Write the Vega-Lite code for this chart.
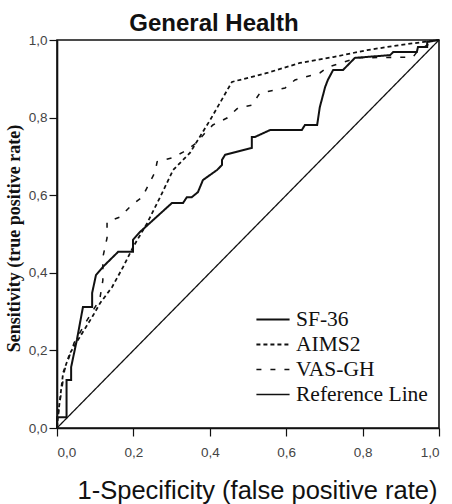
{
  "$schema": "https://vega.github.io/schema/vega-lite/v6.json",
  "autosize": "none",
  "width": 382,
  "height": 388,
  "padding": {"left": 57, "top": 40, "right": 13, "bottom": 76},
  "background": "white",
  "title": {"text": "General Health", "anchor": "middle", "frame": "group", "dx": -34, "offset": -3, "fontSize": 24, "font": "Liberation Sans", "fontWeight": "bold", "color": "#111"},
  "config": {
    "view": {"stroke": "#111", "strokeWidth": 1.6},
    "axis": {"grid": false, "domainColor": "#111", "domainWidth": 1.6, "tickColor": "#111", "tickSize": 8, "tickWidth": 1.2, "labelFont": "Liberation Sans", "labelFontSize": 13.5, "labelColor": "#444", "titleColor": "#111"}
  },
  "datasets": {
    "roc": [
      {"series": "SF-36", "i": 0, "fpr": 0, "tpr": 0},
      {"series": "SF-36", "i": 1, "fpr": 0, "tpr": 0.028},
      {"series": "SF-36", "i": 2, "fpr": 0.025, "tpr": 0.028},
      {"series": "SF-36", "i": 3, "fpr": 0.025, "tpr": 0.124},
      {"series": "SF-36", "i": 4, "fpr": 0.037, "tpr": 0.124},
      {"series": "SF-36", "i": 5, "fpr": 0.037, "tpr": 0.157},
      {"series": "SF-36", "i": 6, "fpr": 0.052, "tpr": 0.227},
      {"series": "SF-36", "i": 7, "fpr": 0.068, "tpr": 0.312},
      {"series": "SF-36", "i": 8, "fpr": 0.092, "tpr": 0.312},
      {"series": "SF-36", "i": 9, "fpr": 0.092, "tpr": 0.348},
      {"series": "SF-36", "i": 10, "fpr": 0.102, "tpr": 0.394},
      {"series": "SF-36", "i": 11, "fpr": 0.120, "tpr": 0.415},
      {"series": "SF-36", "i": 12, "fpr": 0.160, "tpr": 0.454},
      {"series": "SF-36", "i": 13, "fpr": 0.199, "tpr": 0.454},
      {"series": "SF-36", "i": 14, "fpr": 0.199, "tpr": 0.485},
      {"series": "SF-36", "i": 15, "fpr": 0.217, "tpr": 0.505},
      {"series": "SF-36", "i": 16, "fpr": 0.301, "tpr": 0.580},
      {"series": "SF-36", "i": 17, "fpr": 0.330, "tpr": 0.580},
      {"series": "SF-36", "i": 18, "fpr": 0.340, "tpr": 0.595},
      {"series": "SF-36", "i": 19, "fpr": 0.353, "tpr": 0.595},
      {"series": "SF-36", "i": 20, "fpr": 0.369, "tpr": 0.608},
      {"series": "SF-36", "i": 21, "fpr": 0.382, "tpr": 0.639},
      {"series": "SF-36", "i": 22, "fpr": 0.419, "tpr": 0.665},
      {"series": "SF-36", "i": 23, "fpr": 0.432, "tpr": 0.678},
      {"series": "SF-36", "i": 24, "fpr": 0.432, "tpr": 0.691},
      {"series": "SF-36", "i": 25, "fpr": 0.440, "tpr": 0.704},
      {"series": "SF-36", "i": 26, "fpr": 0.510, "tpr": 0.722},
      {"series": "SF-36", "i": 27, "fpr": 0.510, "tpr": 0.750},
      {"series": "SF-36", "i": 28, "fpr": 0.518, "tpr": 0.750},
      {"series": "SF-36", "i": 29, "fpr": 0.558, "tpr": 0.768},
      {"series": "SF-36", "i": 30, "fpr": 0.641, "tpr": 0.768},
      {"series": "SF-36", "i": 31, "fpr": 0.649, "tpr": 0.781},
      {"series": "SF-36", "i": 32, "fpr": 0.681, "tpr": 0.781},
      {"series": "SF-36", "i": 33, "fpr": 0.688, "tpr": 0.827},
      {"series": "SF-36", "i": 34, "fpr": 0.702, "tpr": 0.879},
      {"series": "SF-36", "i": 35, "fpr": 0.709, "tpr": 0.897},
      {"series": "SF-36", "i": 36, "fpr": 0.723, "tpr": 0.923},
      {"series": "SF-36", "i": 37, "fpr": 0.749, "tpr": 0.923},
      {"series": "SF-36", "i": 38, "fpr": 0.780, "tpr": 0.954},
      {"series": "SF-36", "i": 39, "fpr": 0.872, "tpr": 0.961},
      {"series": "SF-36", "i": 40, "fpr": 0.880, "tpr": 0.969},
      {"series": "SF-36", "i": 41, "fpr": 0.942, "tpr": 0.969},
      {"series": "SF-36", "i": 42, "fpr": 0.945, "tpr": 0.982},
      {"series": "SF-36", "i": 43, "fpr": 0.969, "tpr": 0.982},
      {"series": "SF-36", "i": 44, "fpr": 0.969, "tpr": 0.995},
      {"series": "SF-36", "i": 45, "fpr": 1, "tpr": 1},
      {"series": "AIMS2", "i": 0, "fpr": 0, "tpr": 0},
      {"series": "AIMS2", "i": 1, "fpr": 0.003, "tpr": 0.034},
      {"series": "AIMS2", "i": 2, "fpr": 0.016, "tpr": 0.142},
      {"series": "AIMS2", "i": 3, "fpr": 0.034, "tpr": 0.193},
      {"series": "AIMS2", "i": 4, "fpr": 0.060, "tpr": 0.235},
      {"series": "AIMS2", "i": 5, "fpr": 0.092, "tpr": 0.286},
      {"series": "AIMS2", "i": 6, "fpr": 0.113, "tpr": 0.322},
      {"series": "AIMS2", "i": 7, "fpr": 0.144, "tpr": 0.363},
      {"series": "AIMS2", "i": 8, "fpr": 0.173, "tpr": 0.415},
      {"series": "AIMS2", "i": 9, "fpr": 0.199, "tpr": 0.466},
      {"series": "AIMS2", "i": 10, "fpr": 0.236, "tpr": 0.528},
      {"series": "AIMS2", "i": 11, "fpr": 0.270, "tpr": 0.595},
      {"series": "AIMS2", "i": 12, "fpr": 0.304, "tpr": 0.665},
      {"series": "AIMS2", "i": 13, "fpr": 0.348, "tpr": 0.709},
      {"series": "AIMS2", "i": 14, "fpr": 0.401, "tpr": 0.794},
      {"series": "AIMS2", "i": 15, "fpr": 0.458, "tpr": 0.892},
      {"series": "AIMS2", "i": 16, "fpr": 0.550, "tpr": 0.915},
      {"series": "AIMS2", "i": 17, "fpr": 0.636, "tpr": 0.941},
      {"series": "AIMS2", "i": 18, "fpr": 0.723, "tpr": 0.956},
      {"series": "AIMS2", "i": 19, "fpr": 0.812, "tpr": 0.974},
      {"series": "AIMS2", "i": 20, "fpr": 0.898, "tpr": 0.987},
      {"series": "AIMS2", "i": 21, "fpr": 1, "tpr": 1},
      {"series": "VAS-GH", "i": 0, "fpr": 0, "tpr": 0},
      {"series": "VAS-GH", "i": 1, "fpr": 0.005, "tpr": 0.05},
      {"series": "VAS-GH", "i": 2, "fpr": 0.02, "tpr": 0.15},
      {"series": "VAS-GH", "i": 3, "fpr": 0.045, "tpr": 0.22},
      {"series": "VAS-GH", "i": 4, "fpr": 0.08, "tpr": 0.28},
      {"series": "VAS-GH", "i": 5, "fpr": 0.105, "tpr": 0.32},
      {"series": "VAS-GH", "i": 6, "fpr": 0.113, "tpr": 0.338},
      {"series": "VAS-GH", "i": 7, "fpr": 0.12, "tpr": 0.38},
      {"series": "VAS-GH", "i": 8, "fpr": 0.12, "tpr": 0.44},
      {"series": "VAS-GH", "i": 9, "fpr": 0.131, "tpr": 0.49},
      {"series": "VAS-GH", "i": 10, "fpr": 0.131, "tpr": 0.531},
      {"series": "VAS-GH", "i": 11, "fpr": 0.165, "tpr": 0.544},
      {"series": "VAS-GH", "i": 12, "fpr": 0.196, "tpr": 0.575},
      {"series": "VAS-GH", "i": 13, "fpr": 0.223, "tpr": 0.595},
      {"series": "VAS-GH", "i": 14, "fpr": 0.257, "tpr": 0.66},
      {"series": "VAS-GH", "i": 15, "fpr": 0.262, "tpr": 0.686},
      {"series": "VAS-GH", "i": 16, "fpr": 0.301, "tpr": 0.696},
      {"series": "VAS-GH", "i": 17, "fpr": 0.330, "tpr": 0.711},
      {"series": "VAS-GH", "i": 18, "fpr": 0.366, "tpr": 0.735},
      {"series": "VAS-GH", "i": 19, "fpr": 0.387, "tpr": 0.760},
      {"series": "VAS-GH", "i": 20, "fpr": 0.408, "tpr": 0.781},
      {"series": "VAS-GH", "i": 21, "fpr": 0.445, "tpr": 0.799},
      {"series": "VAS-GH", "i": 22, "fpr": 0.474, "tpr": 0.825},
      {"series": "VAS-GH", "i": 23, "fpr": 0.510, "tpr": 0.832},
      {"series": "VAS-GH", "i": 24, "fpr": 0.531, "tpr": 0.863},
      {"series": "VAS-GH", "i": 25, "fpr": 0.597, "tpr": 0.876},
      {"series": "VAS-GH", "i": 26, "fpr": 0.623, "tpr": 0.897},
      {"series": "VAS-GH", "i": 27, "fpr": 0.688, "tpr": 0.915},
      {"series": "VAS-GH", "i": 28, "fpr": 0.709, "tpr": 0.930},
      {"series": "VAS-GH", "i": 29, "fpr": 0.785, "tpr": 0.954},
      {"series": "VAS-GH", "i": 30, "fpr": 0.932, "tpr": 0.956},
      {"series": "VAS-GH", "i": 31, "fpr": 0.942, "tpr": 0.969},
      {"series": "VAS-GH", "i": 32, "fpr": 0.969, "tpr": 0.987},
      {"series": "VAS-GH", "i": 33, "fpr": 1, "tpr": 1},
      {"series": "Reference Line", "i": 0, "fpr": 0, "tpr": 0},
      {"series": "Reference Line", "i": 1, "fpr": 1, "tpr": 1}
    ]
  },
  "data": {"name": "roc"},
  "mark": {"type": "line", "color": "#111", "clip": false},
  "encoding": {
    "x": {"field": "fpr", "type": "quantitative", "scale": {"domain": [0, 1], "nice": false},
      "axis": {"values": [0, 0.2, 0.4, 0.6, 0.8, 1], "labelExpr": "replace(format(datum.value, '.1f'), '.', ',')", "labelPadding": 9,
        "title": "1-Specificity (false positive rate)", "titleFont": "Liberation Sans", "titleFontSize": 25.5, "titleFontWeight": "normal", "titleX": 200, "titleY": 70, "titleBaseline": "alphabetic", "titleAlign": "center"}},
    "y": {"field": "tpr", "type": "quantitative", "scale": {"domain": [0, 1], "nice": false},
      "axis": {"values": [0, 0.2, 0.4, 0.6, 0.8, 1], "labelExpr": "replace(format(datum.value, '.1f'), '.', ',')", "labelPadding": 2,
        "title": "Sensitivity (true positive rate)", "titleFont": "Liberation Serif", "titleFontSize": 18, "titleFontWeight": "bold", "titleX": -43, "titleY": 198, "titleAngle": 270, "titleBaseline": "middle", "titleAlign": "center"}},
    "detail": {"field": "series"},
    "order": {"field": "i", "type": "quantitative"},
    "strokeDash": {"field": "series", "type": "nominal",
      "scale": {"domain": ["SF-36", "AIMS2", "VAS-GH", "Reference Line"], "range": [[1, 0], [4, 3], [5, 9], [1, 0]]},
      "legend": {"title": null, "orient": "none", "legendX": 198, "legendY": 267, "symbolType": "stroke", "symbolSize": 1100, "symbolStrokeColor": "#111", "labelFont": "Liberation Serif", "labelFontSize": 21.5, "labelColor": "#111", "rowPadding": 0, "clipHeight": 25, "labelOffset": 5}},
    "strokeWidth": {"field": "series", "type": "nominal",
      "scale": {"domain": ["SF-36", "AIMS2", "VAS-GH", "Reference Line"], "range": [2, 1.3, 1.3, 1]},
      "legend": {"title": null, "orient": "none", "legendX": 198, "legendY": 267, "symbolType": "stroke", "symbolSize": 1100, "symbolStrokeColor": "#111", "labelFont": "Liberation Serif", "labelFontSize": 21.5, "labelColor": "#111", "rowPadding": 0, "clipHeight": 25, "labelOffset": 5}}
  }
}
